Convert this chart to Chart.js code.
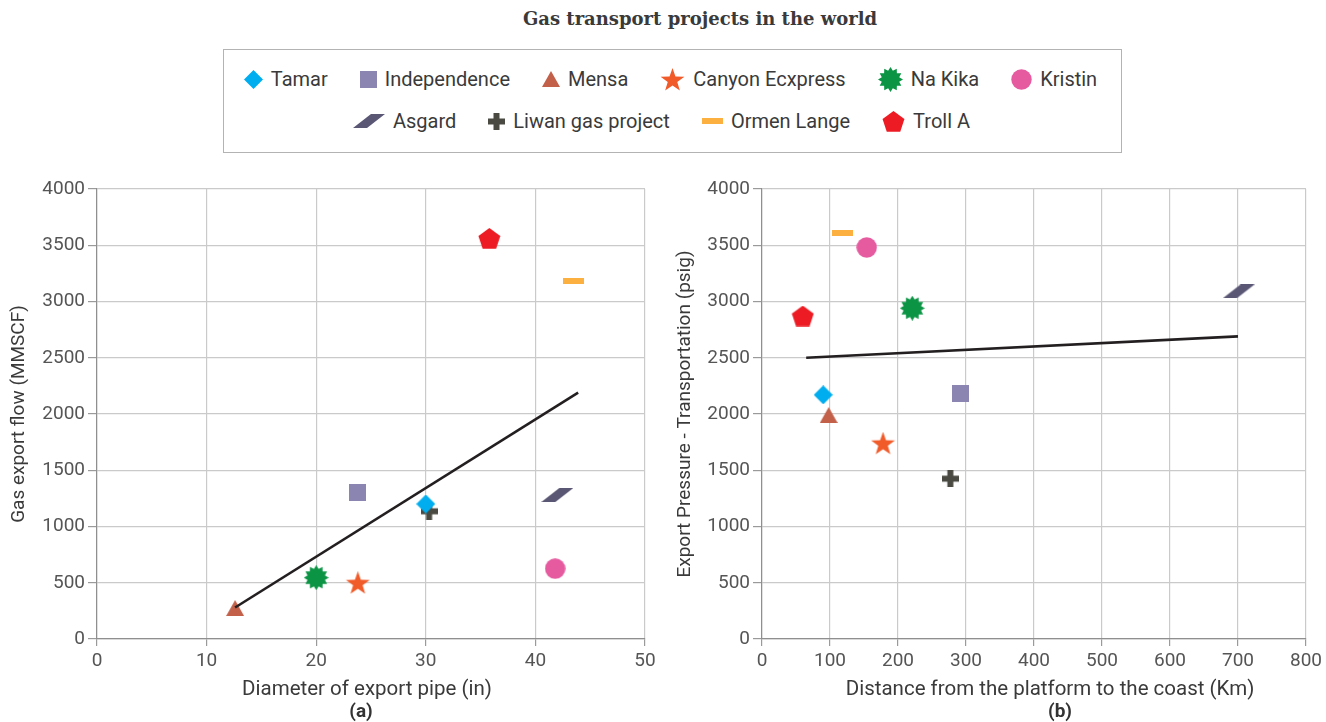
<!DOCTYPE html>
<html><head><meta charset="utf-8">
<script src="https://cdn.jsdelivr.net/npm/chart.js@4.4.1/dist/chart.umd.min.js"></script>
<style>
body{margin:0;background:#fff;width:1326px;height:722px;position:relative;overflow:hidden;font-family:Roboto,sans-serif;}
#title{position:absolute;left:0;width:1400px;top:8px;text-align:center;font:bold 18px "DejaVu Serif";color:#3a3a3a;}
#legend{position:absolute;left:223px;top:49px;width:897px;height:102px;border:1.5px solid #b3b3b3;}
.row{position:absolute;left:0;width:100%;height:28px;display:flex;justify-content:center;align-items:center;box-sizing:border-box;}
.item{display:flex;align-items:center;font:20px Roboto;color:#3a3a3a;margin:0 16px;}
.item canvas{margin-right:8px}
#ca{position:absolute;left:0;top:170px;width:660px;height:552px}
#cb{position:absolute;left:660px;top:170px;width:666px;height:552px}
.xt{position:absolute;top:676px;font:20.5px Roboto;color:#3a3a3a;transform:translateX(-50%);white-space:nowrap;}
.sub{position:absolute;top:699px;font:bold 19px Roboto;color:#333;transform:translateX(-50%);}
</style></head>
<body>
<div id="title">Gas transport projects in the world</div>
<div id="legend"><div class="row" id="row1" style="top:15px;padding-right:4px"></div><div class="row" id="row2" style="top:57px;padding-right:22px"></div></div>
<div id="ca"><canvas id="chartA"></canvas></div>
<div id="cb"><canvas id="chartB"></canvas></div>
<div class="xt" style="left:367px">Diameter of export pipe (in)</div>
<div class="xt" style="left:1050px">Distance from the platform to the coast (Km)</div>
<div class="sub" style="left:361px">(a)</div>
<div class="sub" style="left:1060px">(b)</div>
<script>
// ---- data ----
const projects = ['Tamar','Independence','Mensa','Canyon Ecxpress','Na Kika','Kristin','Asgard','Liwan gas project','Ormen Lange','Troll A'];
const diameterIn = [30, 23.8, 12.6, 23.8, 20, 41.8, 42, 30.3, 43.5, 35.8];
const flowMMSCF = [1200, 1300, 275, 500, 545, 625, 1280, 1135, 3180, 3560];
const distanceKm = [90, 292, 98, 178, 221, 154, 701, 277, 118, 60];
const pressurePsig = [2170, 2180, 1990, 1740, 2940, 3480, 3090, 1425, 3610, 2870];
const trendAx = [12.6, 43.9];
const trendAy = [280, 2190];
const trendBx = [65, 700];
const trendBy = [2500, 2690];
const xTicksA = [0, 10, 20, 30, 40, 50];
const xTicksB = [0, 100, 200, 300, 400, 500, 600, 700, 800];
const yTicks = [0, 500, 1000, 1500, 2000, 2500, 3000, 3500, 4000];

// ---- styles ----
const colors = ['#00aeef','#8b85b1','#c2604a','#f15a29','#0b9444','#e65a9f','#5a5775','#4a4a42','#fbb040','#ed1c24'];
const shapes = ['diamond','square','triangle','star','burst','circle','para','cross','dash','pentagon'];

function starPath(g, cx, cy, R, r, n){
  for(let i=0;i<2*n;i++){
    const a = -Math.PI/2 + i*Math.PI/n;
    const rad = i%2===0 ? R : r;
    const x = cx + rad*Math.cos(a), y = cy + rad*Math.sin(a);
    if(i===0) g.moveTo(x,y); else g.lineTo(x,y);
  }
  g.closePath();
}
function marker(kind, color){
  const dims = {diamond:[19,19], square:[17,17], triangle:[18,16], star:[25,23], burst:[25,25], circle:[21,21], para:[32,14], cross:[17,17], dash:[21,6], pentagon:[23,21]};
  const [w,h] = dims[kind];
  const c = document.createElement('canvas'); c.width=w; c.height=h;
  const g = c.getContext('2d'); g.fillStyle=color; g.beginPath();
  switch(kind){
    case 'diamond': g.moveTo(w/2,0); g.lineTo(w,h/2); g.lineTo(w/2,h); g.lineTo(0,h/2); g.closePath(); break;
    case 'square': g.rect(0,0,w,h); break;
    case 'triangle': g.moveTo(w/2,0); g.lineTo(w,h); g.lineTo(0,h); g.closePath(); break;
    case 'star': starPath(g, w/2, 12.5, 12.5, 5, 5); break;
    case 'burst': starPath(g, w/2, h/2, 12.5, 9, 12); break;
    case 'circle': g.arc(w/2,h/2,10.2,0,Math.PI*2); break;
    case 'para': g.moveTo(18,0); g.lineTo(32,0); g.lineTo(14,14); g.lineTo(0,14); g.closePath(); break;
    case 'cross': g.rect(0,5.5,17,6); g.rect(5.5,0,6,17); break;
    case 'dash': g.rect(0,0,21,6); break;
    case 'pentagon': {
      const R=11.5; for(let i=0;i<5;i++){const a=-Math.PI/2+i*2*Math.PI/5; const x=w/2+R*Math.cos(a), y=11.5+R*Math.sin(a); i?g.lineTo(x,y):g.moveTo(x,y);} g.closePath(); break; }
  }
  g.fill();
  return c;
}
const markers = shapes.map((s,i)=>marker(s, colors[i]));

// ---- legend (HTML) ----
const rowSplit = 6;
projects.forEach((p,i)=>{
  const item = document.createElement('div'); item.className='item';
  item.appendChild(marker(shapes[i], colors[i]));
  const t = document.createElement('span'); t.textContent = p; item.appendChild(t);
  document.getElementById(i<rowSplit?'row1':'row2').appendChild(item);
});

// ---- charts ----
const tickFont = {family:'Roboto', size:19};
const gridColor = '#cacaca';
function makeChart(id, xs, ys, tx, ty, xMax, xTicks, yTitle, yWidth, rightPad, yTitlePad){
  const datasets = [{
    label:'trend', data: tx.map((x,i)=>({x, y:ty[i]})), showLine:true, borderColor:'#231f20', borderWidth:2.6,
    pointRadius:0, pointHoverRadius:0, fill:false
  }];
  projects.forEach((p,i)=>datasets.push({label:p, data:[{x:xs[i], y:ys[i]}], pointStyle:markers[i], pointRadius:10}));
  return new Chart(document.getElementById(id), {
    type:'scatter',
    data:{datasets},
    options:{
      responsive:true, maintainAspectRatio:false, animation:false,
      layout:{padding:{top:19, right:rightPad, left:0, bottom:0}},
      plugins:{legend:{display:false}, tooltip:{enabled:false}},
      scales:{
        x:{type:'linear', min:0, max:xMax,
          afterBuildTicks: s => { s.ticks = xTicks.map(v=>({value:v})); },
          ticks:{font:tickFont, color:'#555', padding:4, maxRotation:0, callback:v=>String(v)},
          grid:{color:gridColor, tickColor:'#9a9a9a', tickLength:7, lineWidth:1.2},
          border:{color:'#8f8f8f', width:1.2},
          afterFit: s => { s.height = 83; }
        },
        y:{type:'linear', min:0, max:4000,
          afterBuildTicks: s => { s.ticks = yTicks.map(v=>({value:v})); },
          ticks:{font:tickFont, color:'#555', padding:3, callback:v=>String(v)},
          grid:{color:gridColor, tickColor:'#9a9a9a', tickLength:9, lineWidth:1.2},
          border:{color:'#8f8f8f', width:1.2},
          title:{display:true, text:yTitle, font:{family:'Roboto', size:19}, color:'#3a3a3a', padding:{top:yTitlePad,bottom:0}},
          afterFit: s => { s.width = yWidth; }
        }
      }
    }
  });
}
makeChart('chartA', diameterIn, flowMMSCF, trendAx, trendAy, 50, xTicksA, 'Gas export flow (MMSCF)', 97, 15, 8);
makeChart('chartB', distanceKm, pressurePsig, trendBx, trendBy, 800, xTicksB, 'Export Pressure - Transportation (psig)', 102, 18, 14);
</script>
</body></html>
